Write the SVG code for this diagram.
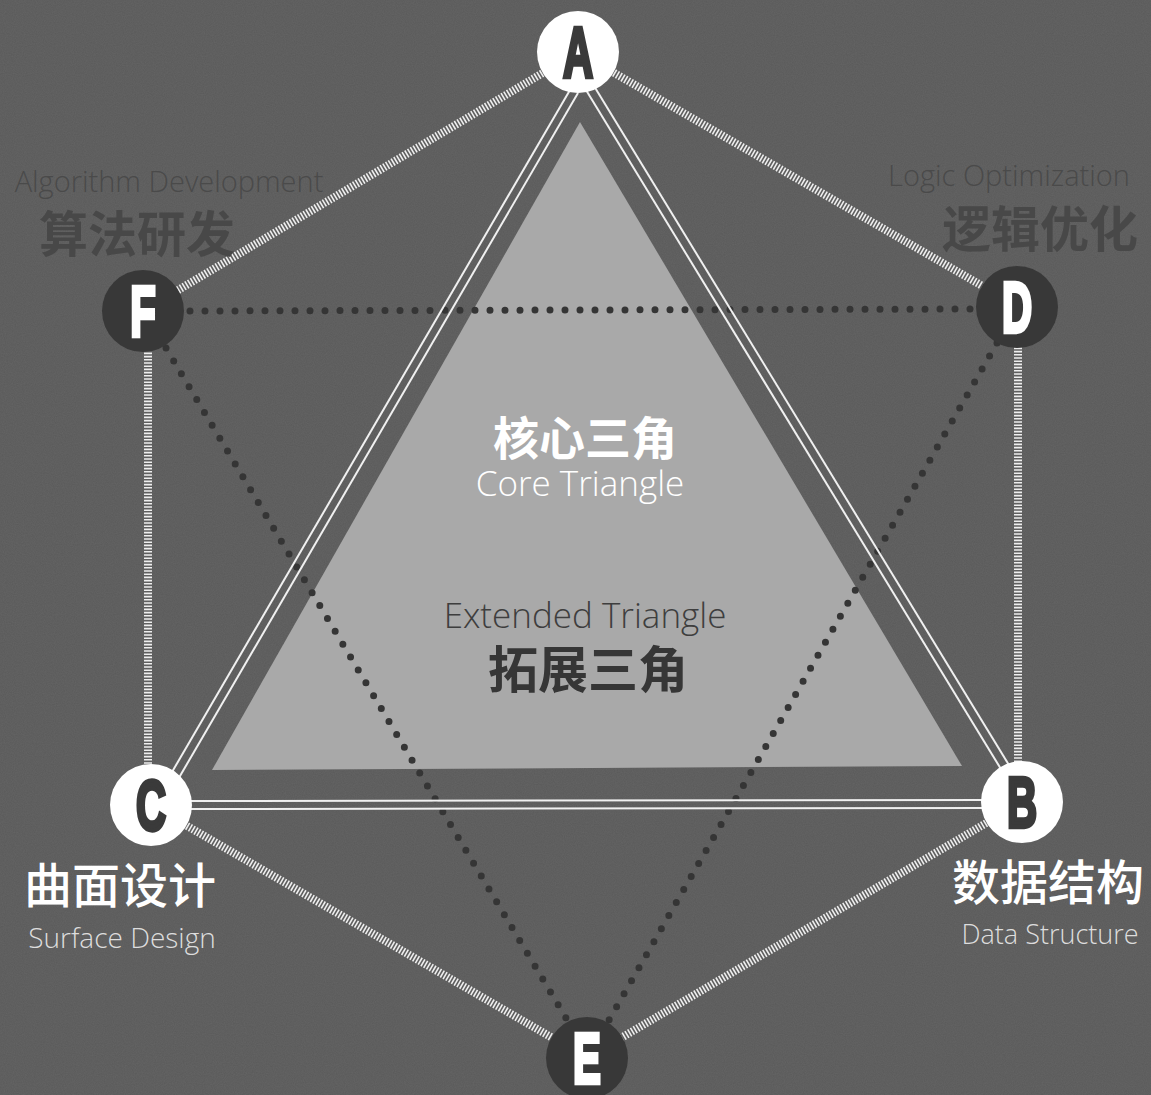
<svg xmlns="http://www.w3.org/2000/svg" width="1151" height="1095" viewBox="0 0 1151 1095">
  <defs>
    <filter id="noise" x="0" y="0" width="100%" height="100%">
      <feTurbulence type="fractalNoise" baseFrequency="0.9" numOctaves="2" seed="3" result="n"/>
      <feColorMatrix type="matrix" values="0 0 0 0 0.5  0 0 0 0 0.5  0 0 0 0 0.5  0 0 0 0.18 0" in="n"/>
    </filter>
    <style>
      .hatch { stroke:#eeeeee; stroke-width:8; stroke-dasharray:1.6 1.6; fill:none; }
      .dbl { stroke:#f0f0f0; stroke-width:2; fill:none; }
      .dot { stroke:#353535; stroke-width:7; stroke-linecap:round; stroke-dasharray:0 15; fill:none; }
      .nlight { fill:#ffffff; }
      .ndark { fill:#383838; }
      .lt { font-family:"Liberation Sans", Arial, sans-serif; font-weight:bold; font-size:58px; text-anchor:middle; stroke-width:3.5; stroke-linejoin:miter; }
      .en { font-family:"Open Sans", "Liberation Sans", sans-serif; font-weight:300; }
      .cn { font-family:"Noto Sans CJK SC", "Noto Sans CJK JP", sans-serif; }
    </style>
  </defs>
  <rect width="1151" height="1095" fill="#5a5a5a"/>
  <rect width="1151" height="1095" filter="url(#noise)" opacity="0.6"/>

  <g id="core-triangle">
    <polygon points="580,122 212,770 962,766" fill="#a9a9a9"/>
  </g>

  <g id="connectors">
    <line class="dot" x1="190" y1="311" x2="975" y2="309"/>
    <line class="dot" x1="166" y1="348" x2="566" y2="1018"/>
    <line class="dot" x1="997" y1="343" x2="609" y2="1020"/>
    <line class="dbl" x1="570" y1="90" x2="158" y2="796"/>
    <line class="dbl" x1="578" y1="93" x2="166" y2="800"/>
    <line class="dbl" x1="586" y1="90" x2="1015" y2="792"/>
    <line class="dbl" x1="594" y1="86" x2="1023" y2="788"/>
    <line class="dbl" x1="180" y1="801" x2="992" y2="800"/>
    <line class="dbl" x1="180" y1="809" x2="992" y2="808"/>
    <line class="hatch" x1="578" y1="52" x2="143" y2="311"/>
    <line class="hatch" x1="578" y1="52" x2="1017" y2="306"/>
    <line class="hatch" x1="148" y1="311" x2="148" y2="805"/>
    <line class="hatch" x1="1018" y1="306" x2="1018" y2="802"/>
    <line class="hatch" x1="151" y1="805" x2="587" y2="1058"/>
    <line class="hatch" x1="1022" y1="802" x2="587" y2="1058"/>
  </g>

  <g id="node-A">
    <circle class="nlight" cx="578" cy="52" r="41"/>
    <text class="lt" fill="#3a3a3a" stroke="#3a3a3a" transform="translate(578,52) scale(0.72,1.22)" y="20.5">A</text>
  </g>
  <g id="node-B">
    <circle class="nlight" cx="1022" cy="802" r="41"/>
    <text class="lt" fill="#3a3a3a" stroke="#3a3a3a" transform="translate(1022,802) scale(0.72,1.22)" y="20.5">B</text>
  </g>
  <g id="node-C">
    <circle class="nlight" cx="151" cy="805" r="41"/>
    <text class="lt" fill="#3a3a3a" stroke="#3a3a3a" transform="translate(151,805) scale(0.72,1.22)" y="20.5">C</text>
  </g>
  <g id="node-D">
    <circle class="ndark" cx="1017" cy="307" r="41"/>
    <text class="lt" fill="#ffffff" stroke="#ffffff" transform="translate(1017,307) scale(0.72,1.22)" y="20.5">D</text>
  </g>
  <g id="node-E">
    <circle class="ndark" cx="587" cy="1058" r="41"/>
    <text class="lt" fill="#ffffff" stroke="#ffffff" transform="translate(587,1058) scale(0.72,1.22)" y="20.5">E</text>
  </g>
  <g id="node-F">
    <circle class="ndark" cx="143" cy="311" r="41"/>
    <text class="lt" fill="#ffffff" stroke="#ffffff" transform="translate(143,311) scale(0.72,1.22)" y="20.5">F</text>
  </g>

  <g id="labels">
    <text class="en" x="169" y="192" font-size="29" fill="#4a4a4a" text-anchor="middle">Algorithm Development</text>
    <text class="cn" x="137" y="252" font-size="49" font-weight="bold" fill="#484848" text-anchor="middle">算法研发</text>
    <text class="en" x="1009" y="186" font-size="29" fill="#4a4a4a" text-anchor="middle">Logic Optimization</text>
    <text class="cn" x="1040" y="247" font-size="49" font-weight="bold" fill="#484848" text-anchor="middle">逻辑优化</text>
    <text class="cn" x="120" y="903" font-size="48" font-weight="500" fill="#ffffff" text-anchor="middle">曲面设计</text>
    <text class="en" x="122" y="948" font-size="28" fill="#dddddd" text-anchor="middle">Surface Design</text>
    <text class="cn" x="1048" y="900" font-size="48" font-weight="500" fill="#ffffff" text-anchor="middle">数据结构</text>
    <text class="en" x="1050" y="944" font-size="27" fill="#dddddd" text-anchor="middle">Data Structure</text>
    <text class="cn" x="585" y="455" font-size="46" font-weight="bold" fill="#ffffff" text-anchor="middle">核心三角</text>
    <text class="en" x="580" y="496" font-size="35" fill="#ffffff" text-anchor="middle">Core Triangle</text>
    <text class="en" x="585" y="628" font-size="35" fill="#3e3e3e" text-anchor="middle">Extended Triangle</text>
    <text class="cn" x="588" y="688" font-size="50" font-weight="bold" fill="#363636" text-anchor="middle">拓展三角</text>
  </g>
</svg>
